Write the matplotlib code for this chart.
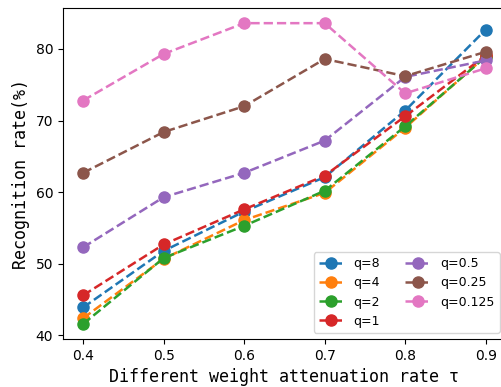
import matplotlib
matplotlib.use("Agg")
import matplotlib.pyplot as plt

# --- Data ---
tau = [0.4, 0.5, 0.6, 0.7, 0.8, 0.9]
labels = ["q=8", "q=4", "q=2", "q=1", "q=0.5", "q=0.25", "q=0.125"]
colors = ["#1f77b4", "#ff7f0e", "#2ca02c", "#d62728", "#9467bd", "#8c564b", "#e377c2"]

q8 = [43.9, 51.8, 57.3, 62.1, 71.4, 82.7]
q4 = [42.4, 50.7, 56.1, 59.9, 69.0, 79.0]
q2 = [41.6, 50.8, 55.3, 60.2, 69.2, 78.9]
q1 = [45.6, 52.7, 57.6, 62.3, 70.6, 79.1]
q05 = [52.3, 59.3, 62.7, 67.2, 76.1, 78.4]
q025 = [62.7, 68.4, 72.0, 78.6, 76.2, 79.6]
q0125 = [72.8, 79.3, 83.6, 83.6, 73.8, 77.3]

series = [q8, q4, q2, q1, q05, q025, q0125]

fig = plt.figure(figsize=(5.01, 3.87), dpi=100)
# the original is cropped on the right, so the axes run slightly past the figure edge
ax = fig.add_axes([0.1257, 0.124, 0.884, 0.855])

for vals, lab, col in zip(series, labels, colors):
    ax.plot(tau, vals, '--o', color=col, label=lab, lw=1.8, markersize=8)

ax.set_xticks([0.4, 0.5, 0.6, 0.7, 0.8, 0.9])
ax.set_yticks([40, 50, 60, 70, 80])
ax.tick_params(labelsize=10)
ax.set_xlabel("Different weight attenuation rate τ", family="DejaVu Sans Mono", fontsize=12)
ax.set_ylabel("Recognition rate(%)", family="DejaVu Sans Mono", fontsize=12)

ax.legend(loc="lower right", ncol=2, fontsize=9)

fig.savefig("out.png", dpi=100)
